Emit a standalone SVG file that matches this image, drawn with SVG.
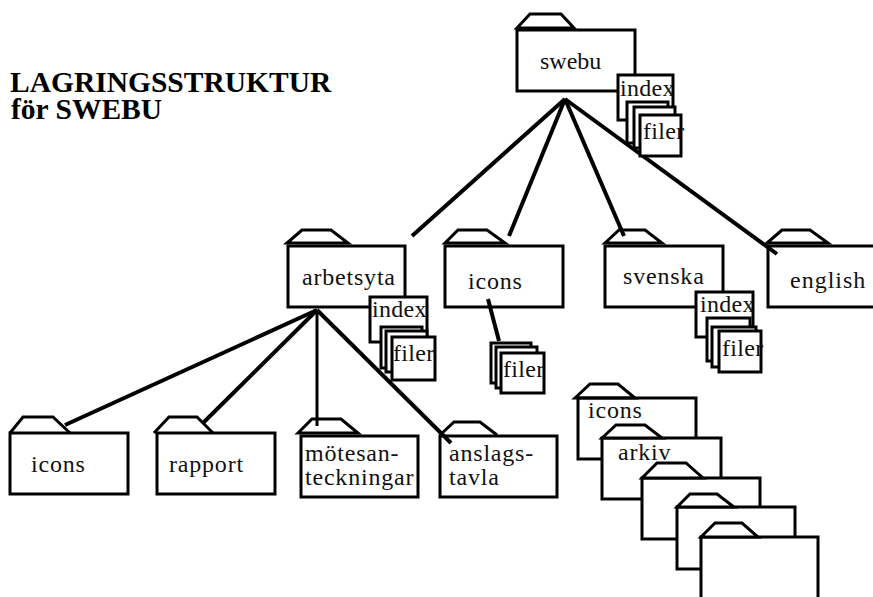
<svg xmlns="http://www.w3.org/2000/svg" width="873" height="597" viewBox="0 0 873 597">
<style>
text{font-family:"Liberation Serif","Times New Roman",serif;font-size:24px;fill:#111;letter-spacing:.8px}
.t{font-weight:bold;font-size:29.5px;letter-spacing:0;fill:#000}
.s{letter-spacing:.3px}
.c line{stroke:#000;stroke-width:4;fill:none}
.b{fill:none;stroke:#000;stroke-width:3}
.w{fill:#fff;stroke:#000;stroke-width:3}
.tab{fill:none;stroke:#000;stroke-width:3}
.tw{fill:#fff;stroke:#000;stroke-width:3}
</style>
<text class="t" x="10" y="92">LAGRINGSSTRUKTUR</text>
<text class="t" x="11" y="119">för SWEBU</text>
<g class="c" id="connectors">
<line x1="565" y1="99" x2="412" y2="236"/>
<line x1="565" y1="99" x2="509" y2="236"/>
<line x1="565" y1="99" x2="624" y2="236"/>
<line x1="565" y1="99" x2="777" y2="254"/>
<line x1="317" y1="310" x2="65" y2="425"/>
<line x1="317" y1="310" x2="203" y2="423"/>
<line x1="317" y1="310" x2="317" y2="426" style="stroke-width:3"/>
<line x1="317" y1="310" x2="451" y2="443"/>
<line x1="488" y1="299" x2="499" y2="341"/>
</g>
<g id="node-swebu"><rect class="b" x="517" y="30" width="118" height="61"/><path class="tab" d="M517 28L530 14H561L574 28Z"/><text x="540" y="69" style="letter-spacing:0">swebu</text></g>
<g id="node-swebu-files"><rect class="w" x="618" y="75" width="55" height="45"/><text class="s" x="620" y="96">index</text><rect class="w" x="627" y="102" width="41" height="41"/><rect class="w" x="634" y="107" width="41" height="41"/><rect class="w" x="640" y="115" width="41" height="41"/><text class="s" x="643" y="139">filer</text></g>
<g id="node-arbetsyta"><rect class="b" x="288" y="246" width="117" height="61"/><path class="tab" d="M287 243L302 230H331L348 243Z"/><text x="302" y="285">arbetsyta</text></g>
<g id="node-arbetsyta-files"><rect class="w" x="370" y="297" width="57" height="45"/><text class="s" x="372" y="317">index</text><rect class="w" x="381" y="327" width="41" height="41"/><rect class="w" x="386" y="331" width="41" height="41"/><rect class="w" x="392" y="337" width="43" height="43"/><text class="s" x="393" y="361">filer</text></g>
<g id="node-icons"><rect class="b" x="445" y="246" width="118" height="61"/><path class="tab" d="M445 243L458 230H487L505 243Z"/><text x="468" y="289">icons</text></g>
<g id="node-icons-files"><rect class="w" x="491" y="343" width="40" height="40"/><rect class="w" x="496" y="347" width="41" height="41"/><rect class="w" x="501" y="353" width="43" height="40"/><text class="s" x="503" y="377">filer</text></g>
<g id="node-svenska"><rect class="b" x="605" y="246" width="118" height="61"/><path class="tab" d="M605 243L619 230H645L662 243Z"/><text x="623" y="284">svenska</text></g>
<g id="node-svenska-files"><rect class="w" x="696" y="292" width="57" height="45"/><text class="s" x="700" y="312">index</text><rect class="w" x="707" y="318" width="43" height="43"/><rect class="w" x="712" y="327" width="44" height="40"/><rect class="w" x="719" y="331" width="42" height="41"/><text class="s" x="722" y="356">filer</text></g>
<g id="node-english"><rect class="b" x="768" y="246" width="118" height="61"/><path class="tab" d="M767 243L782 230H810L828 243Z"/><text x="790" y="288" style="letter-spacing:1px">english</text></g>
<g id="node-icons2"><rect class="b" x="10" y="433" width="118" height="61"/><path class="tab" d="M10 433L23 417H53L70 433"/><text x="31" y="472">icons</text></g>
<g id="node-rapport"><rect class="b" x="157" y="433" width="118" height="61"/><path class="tab" d="M154 433L169 417H197L213 433"/><text x="169" y="472">rapport</text></g>
<g id="node-motesanteckningar"><rect class="b" x="301" y="436" width="117" height="61"/><path class="tab" d="M298 433L312 419H341L358 433Z"/><text x="305" y="461">mötesan-</text><text x="305" y="485">teckningar</text></g>
<g id="node-anslagstavla"><rect class="b" x="440" y="436" width="117" height="61"/><path class="tab" d="M440 435L454 422H480L497 435"/><text x="449" y="461">anslags-</text><text x="449" y="485">tavla</text></g>
<g id="node-icons3"><rect class="b" x="578" y="398" width="118" height="61"/><path class="tab" d="M575 398L590 384H618L635 398Z"/><text x="588" y="418">icons</text></g>
<g id="node-arkiv"><rect class="w" x="602" y="438" width="119" height="61"/><path class="tw" d="M602 438L616 425H645L662 438Z"/><text x="618" y="460">arkiv</text></g>
<g id="node-f3"><rect class="w" x="642" y="478" width="118" height="61"/><path class="tw" d="M642 478L657 463H686L703 478Z"/></g>
<g id="node-f4"><rect class="w" x="677" y="507" width="118" height="62"/><path class="tw" d="M677 507L690 494H717L734 507Z"/></g>
<g id="node-f5"><rect class="w" x="701" y="537" width="117" height="80"/><path class="tw" d="M701 537L715 523H742L758 537Z"/></g>
</svg>
